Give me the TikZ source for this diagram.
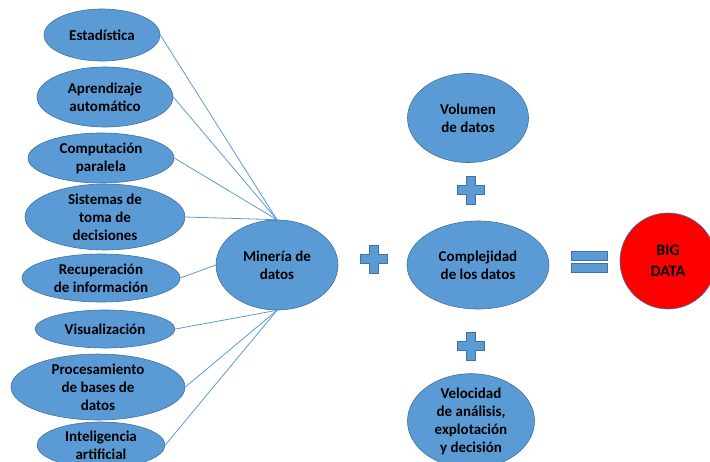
\documentclass[tikz,border=0pt]{standalone}
\usepackage{fontspec}
\setmainfont{Carlito}
\usetikzlibrary{shapes.geometric}
\definecolor{bubble}{HTML}{5B9BD5}
\definecolor{bubbleedge}{HTML}{41719C}
\definecolor{bigred}{HTML}{FF0000}
\tikzset{
  topic/.style={ellipse, draw=bubbleedge, line width=0.6pt, fill=bubble,
    inner sep=0pt, align=center, text=black,
    font=\fontsize{15}{18}\selectfont\bfseries},
  link/.style={draw=bubble, line width=0.8pt},
  opshape/.style={fill=bubble, draw=bubbleedge, line width=0.5pt},
  pics/plussign/.style={code={
    \path[opshape] (-4.5,-14) -- (4.5,-14) -- (4.5,-4.5) -- (13.5,-4.5) -- (13.5,4.5)
      -- (4.5,4.5) -- (4.5,14) -- (-4.5,14) -- (-4.5,4.5) -- (-13.5,4.5)
      -- (-13.5,-4.5) -- (-4.5,-4.5) -- cycle;
  }}
}
\begin{document}
\begin{tikzpicture}[x=1pt,y=-1pt]
\useasboundingbox (0,0) rectangle (710,461);

% branches of data mining
\node[topic, minimum width=116pt, minimum height=52pt] (est)  at (102,35)  {Estadística};
\node[topic, minimum width=136pt, minimum height=60pt] (apr)  at (105,97)  {Aprendizaje\\automático};
\node[topic, minimum width=146pt, minimum height=50pt] (comp) at (101,158) {Computación\\paralela};
\node[topic, minimum width=160pt, minimum height=56pt] (sis)  at (105,217) {Sistemas de\\toma de\\decisiones};
\node[topic, minimum width=158pt, minimum height=48pt] (rec)  at (101,278) {Recuperación\\de información};
\node[topic, minimum width=140pt, minimum height=38pt] (vis)  at (105,329) {Visualización};
\node[topic, minimum width=174pt, minimum height=58pt] (proc) at (98,387)  {Procesamiento\\de bases de\\datos};
\node[topic, minimum width=128pt, minimum height=46pt] (ia)   at (101,445) {Inteligencia\\artificial};

% central terms
\node[topic, minimum width=122pt, minimum height=90pt] (min) at (277,265) {Minería de\\datos};
\node[topic, minimum width=121pt, minimum height=89pt] (vol) at (468,118) {Volumen\\de datos};
\node[topic, minimum width=142pt, minimum height=88pt] (cmp) at (478,265) {Complejidad\\de los datos};
\node[topic, minimum width=127pt, minimum height=90pt] (vel) at (471,421) {Velocidad\\de análisis,\\explotación\\y decisión};
\node[topic, circle, fill=bigred, draw=bubbleedge, minimum size=96pt,
      font=\fontsize{16}{21}\selectfont\bfseries] (big) at (668,261) {BIG\\DATA};

% connectors into data mining
\draw[link] (est.east)  -- (min.north);
\draw[link] (apr.east)  -- (min.north);
\draw[link] (comp.east) -- (min.north);
\draw[link] (sis.east)  -- (min.north);
\draw[link] (rec.east)  -- (min.west);
\draw[link] (vis.east)  -- (min.south);
\draw[link] (proc.east) -- (min.south);
\draw[link] (ia.east)   -- (min.south);

% operators
\pic at (374,259) {plussign};
\pic at (471,190) {plussign};
\pic at (471,346) {plussign};
\path[opshape] (571,251) rectangle (607,260);
\path[opshape] (571,263) rectangle (607,272);
\end{tikzpicture}
\end{document}
